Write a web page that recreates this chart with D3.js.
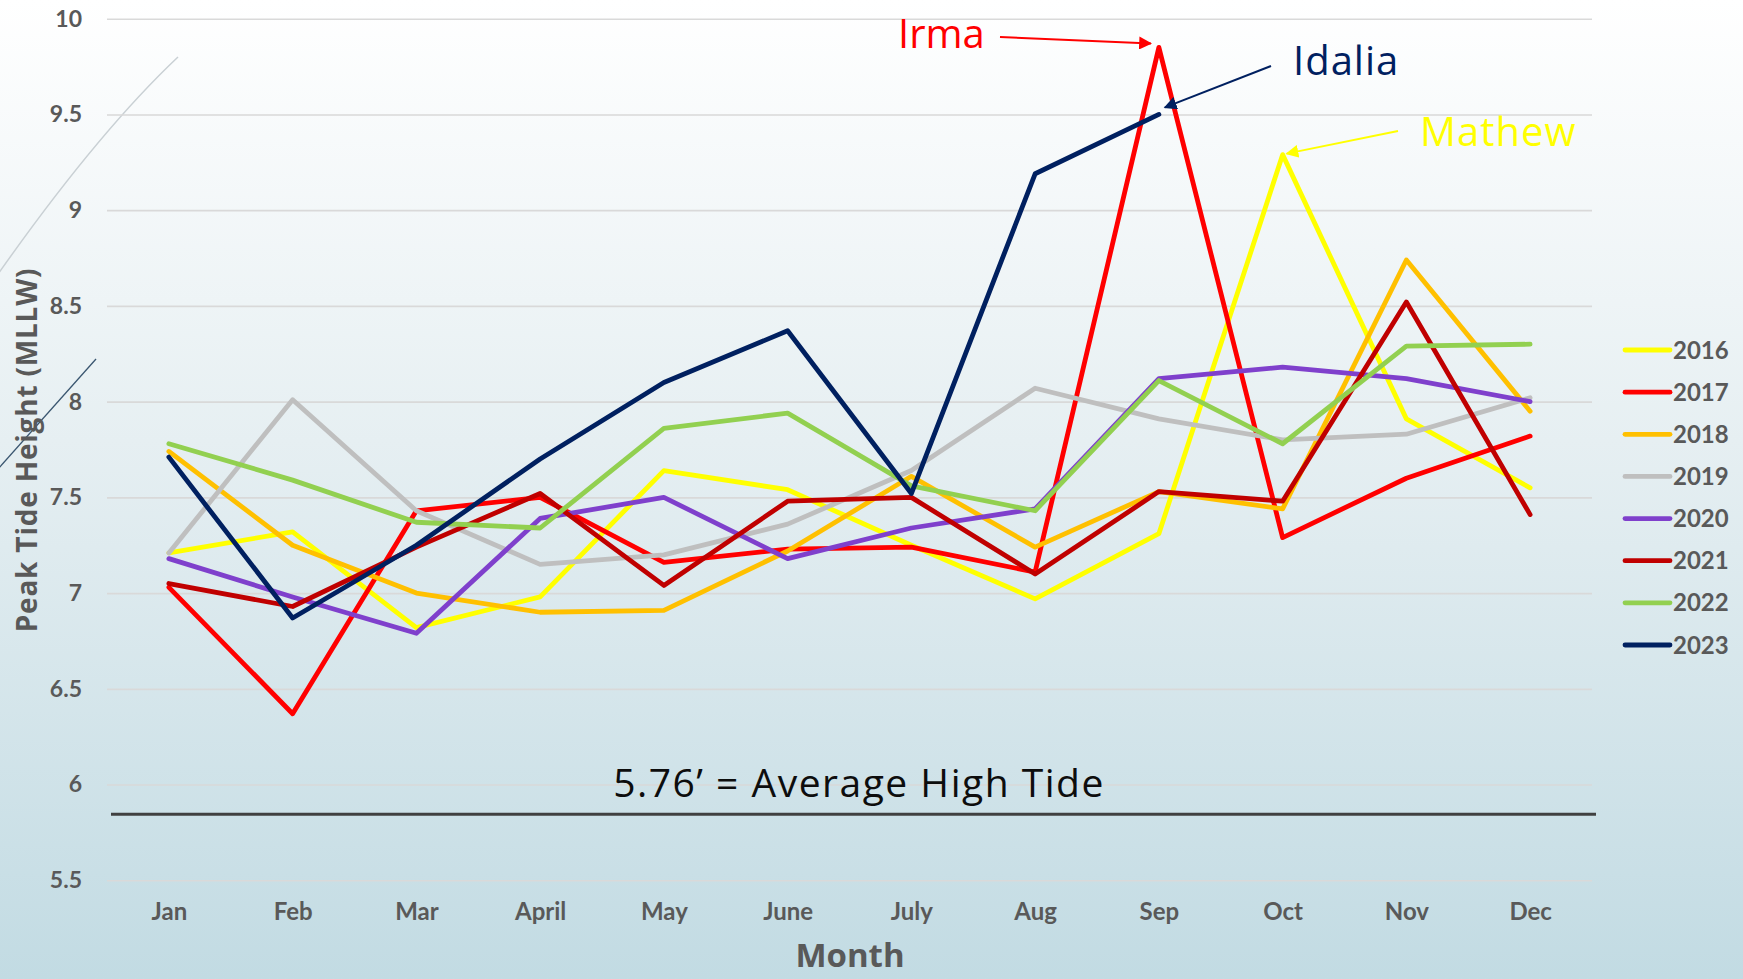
<!DOCTYPE html>
<html>
<head>
<meta charset="utf-8">
<script src="https://cdn.jsdelivr.net/npm/d3@7"></script>
<style>
  html, body { margin: 0; padding: 0; overflow: hidden; background: #fff; }
  text { font-family: Lato, "Open Sans", sans-serif; }
  .wide { font-family: "Open Sans", Lato, sans-serif; }
</style>
</head>
<body>
<script>
// chart values
var months = ["Jan", "Feb", "Mar", "April", "May", "June", "July", "Aug", "Sep", "Oct", "Nov", "Dec"];
var years = ["2016", "2017", "2018", "2019", "2020", "2021", "2022", "2023"];
var yearColors = ["#FFFF00", "#FF0000", "#FFC000", "#BFBFBF", "#7F40CC", "#C00000", "#92D050", "#002060"];

var tide2016 = [7.21, 7.32, 6.82, 6.98, 7.64, 7.54, 7.25, 6.97, 7.31, 9.29, 7.91, 7.55];
var tide2017 = [7.03, 6.37, 7.43, 7.50, 7.16, 7.23, 7.24, 7.11, 9.85, 7.29, 7.60, 7.82];
var tide2018 = [7.74, 7.25, 7.00, 6.90, 6.91, 7.22, 7.61, 7.24, 7.53, 7.44, 8.74, 7.95];
var tide2019 = [7.21, 8.01, 7.43, 7.15, 7.20, 7.36, 7.64, 8.07, 7.91, 7.80, 7.83, 8.02];
var tide2020 = [7.18, 6.98, 6.79, 7.39, 7.50, 7.18, 7.34, 7.44, 8.12, 8.18, 8.12, 8.00];
var tide2021 = [7.05, 6.93, 7.24, 7.52, 7.04, 7.48, 7.50, 7.10, 7.53, 7.48, 8.52, 7.41];
var tide2022 = [7.78, 7.59, 7.37, 7.34, 7.86, 7.94, 7.56, 7.43, 8.11, 7.78, 8.29, 8.30];
var tide2023 = [7.71, 6.87, 7.25, 7.70, 8.10, 8.37, 7.52, 9.19, 9.50, null, null, null];
var allTides = [tide2016, tide2017, tide2018, tide2019, tide2020, tide2021, tide2022, tide2023];

var yTicks = [5.5, 6, 6.5, 7, 7.5, 8, 8.5, 9, 9.5, 10];
var avgTideLabel = "5.76\u2019 = Average High Tide";
var avgLineValue = 5.845;   // where the drawn reference line sits

// storm call-outs
var stormNames = ["Irma", "Idalia", "Mathew"];
var stormYears = ["2017", "2023", "2016"];
var stormMonths = ["Sep", "Sep", "Oct"];

// size of the page
var W = 1743, H = 979;
var plot = {left: 107, right: 1592, top: 18.7, bottom: 880.3};

var svg = d3.select("body").append("svg")
    .attr("width", W)
    .attr("height", H);

// background gradient
var defs = svg.append("defs");
var grad = defs.append("linearGradient")
    .attr("id", "bg").attr("x1", 0).attr("y1", 0).attr("x2", 0).attr("y2", 1);
grad.append("stop").attr("offset", "0%").attr("stop-color", "#ffffff");
grad.append("stop").attr("offset", "45%").attr("stop-color", "#e6eff2");
grad.append("stop").attr("offset", "100%").attr("stop-color", "#c2dbe3");
svg.append("rect").attr("width", W).attr("height", H).attr("fill", "url(#bg)");

// slide decoration on the left edge
svg.append("path")
    .attr("d", "M178,57 Q90,140 -20,300")
    .attr("fill", "none").attr("stroke", "#c9d0d4").attr("stroke-width", 1.5);
svg.append("path")
    .attr("d", "M96,359 L-10,478")
    .attr("fill", "none").attr("stroke", "#3a5670").attr("stroke-width", 1.3);

// scales
var x = d3.scalePoint().domain(months).range([plot.left, plot.right]).padding(0.5);
var y = d3.scaleLinear().domain([5.5, 10]).range([plot.bottom, plot.top]);

// y axis with gridlines
var yAxis = svg.append("g")
    .attr("transform", "translate(" + plot.left + ",0)")
    .call(d3.axisLeft(y)
        .tickValues(yTicks)
        .tickSize(-(plot.right - plot.left))
        .tickPadding(25)
        .tickFormat(function(d) { return String(d); }));
yAxis.select(".domain").remove();
yAxis.selectAll(".tick line").attr("stroke", "#d9d9d9").attr("stroke-width", 1.6);
yAxis.selectAll(".tick text")
    .attr("fill", "#595959")
    .attr("font-size", 23)
    .attr("font-weight", "bold")
    .style("font-family", "Lato, sans-serif");

// x axis labels
var xAxis = svg.append("g")
    .attr("transform", "translate(0," + plot.bottom + ")")
    .call(d3.axisBottom(x).tickSize(0).tickPadding(23));
xAxis.select(".domain").remove();
xAxis.selectAll(".tick text")
    .attr("fill", "#595959")
    .attr("font-size", 24)
    .attr("font-weight", "bold")
    .style("font-family", "Lato, sans-serif");

// axis titles
svg.append("text")
    .attr("class", "wide")
    .attr("x", 850).attr("y", 967)
    .attr("text-anchor", "middle")
    .attr("fill", "#595959")
    .attr("font-size", 33)
    .attr("font-weight", "bold")
    .text("Month");
svg.append("text")
    .attr("class", "wide")
    .attr("transform", "translate(37,450) rotate(-90)")
    .attr("text-anchor", "middle")
    .attr("fill", "#595959")
    .attr("font-size", 28)
    .attr("font-weight", "bold")
    .attr("letter-spacing", 0.8)
    .text("Peak Tide Height (MLLW)");

// average high tide reference line
svg.append("line")
    .attr("x1", plot.left + 4).attr("x2", plot.right + 4)
    .attr("y1", y(avgLineValue)).attr("y2", y(avgLineValue))
    .attr("stroke", "#404040").attr("stroke-width", 3);
svg.append("text")
    .attr("class", "wide")
    .attr("x", 859).attr("y", 797)
    .attr("text-anchor", "middle")
    .attr("fill", "#0d0d0d")
    .attr("font-size", 39)
    .attr("letter-spacing", 1.5)
    .text(avgTideLabel);

// the year lines
var line = d3.line()
    .defined(function(d) { return d != null; })
    .x(function(d, i) { return x(months[i]); })
    .y(function(d) { return y(d); });

svg.selectAll(".year-line")
    .data(allTides)
    .enter()
    .append("path")
    .attr("class", "year-line")
    .attr("fill", "none")
    .attr("stroke", function(d, i) { return yearColors[i]; })
    .attr("stroke-width", 4.8)
    .attr("stroke-linejoin", "round")
    .attr("stroke-linecap", "round")
    .attr("d", line);

// legend
var legendY = d3.scalePoint().domain(years).range([350, 645]);
var legend = svg.selectAll(".legend")
    .data(years)
    .enter()
    .append("g")
    .attr("class", "legend")
    .attr("transform", function(d) { return "translate(1625," + legendY(d) + ")"; });
legend.append("line")
    .attr("x1", 0).attr("x2", 45)
    .attr("stroke", function(d, i) { return yearColors[i]; })
    .attr("stroke-width", 4.8)
    .attr("stroke-linecap", "round");
legend.append("text")
    .attr("x", 48)
    .attr("dy", "0.36em")
    .attr("fill", "#595959")
    .attr("font-size", 24)
    .attr("font-weight", "bold")
    .text(function(d) { return d; });

// storm call-outs with arrows
function arrowMarker(id, color) {
  defs.append("marker")
      .attr("id", id)
      .attr("viewBox", "0 0 10 10")
      .attr("refX", 9).attr("refY", 5)
      .attr("markerWidth", 6.5).attr("markerHeight", 6.5)
      .attr("orient", "auto")
    .append("path")
      .attr("d", "M0,0L10,5L0,10z")
      .attr("fill", color);
}

// label spot, arrow start, arrow tip offset from the data point
var calloutLayout = [
  {tx: 898, ty: 48, sx: 1000, sy: 37, dx: -8, dy: -4},
  {tx: 1293, ty: 75, sx: 1271, sy: 66, dx: 6, dy: -7},
  {tx: 1420, ty: 146, sx: 1398, sy: 131, dx: 4, dy: -1}
];

stormNames.forEach(function(name, k) {
  var yi = years.indexOf(stormYears[k]);
  var mi = months.indexOf(stormMonths[k]);
  var color = yearColors[yi];
  var value = allTides[yi][mi];
  var L = calloutLayout[k];
  arrowMarker("arrow" + k, color);
  svg.append("text")
      .attr("class", "wide")
      .attr("x", L.tx).attr("y", L.ty)
      .attr("fill", color)
      .attr("font-size", 40)
      .attr("letter-spacing", k === 0 ? 0 : 1)
      .text(name);
  svg.append("line")
      .attr("x1", L.sx).attr("y1", L.sy)
      .attr("x2", x(stormMonths[k]) + L.dx)
      .attr("y2", y(value) + L.dy)
      .attr("stroke", color)
      .attr("stroke-width", 2)
      .attr("marker-end", "url(#arrow" + k + ")");
});
</script>
</body>
</html>
